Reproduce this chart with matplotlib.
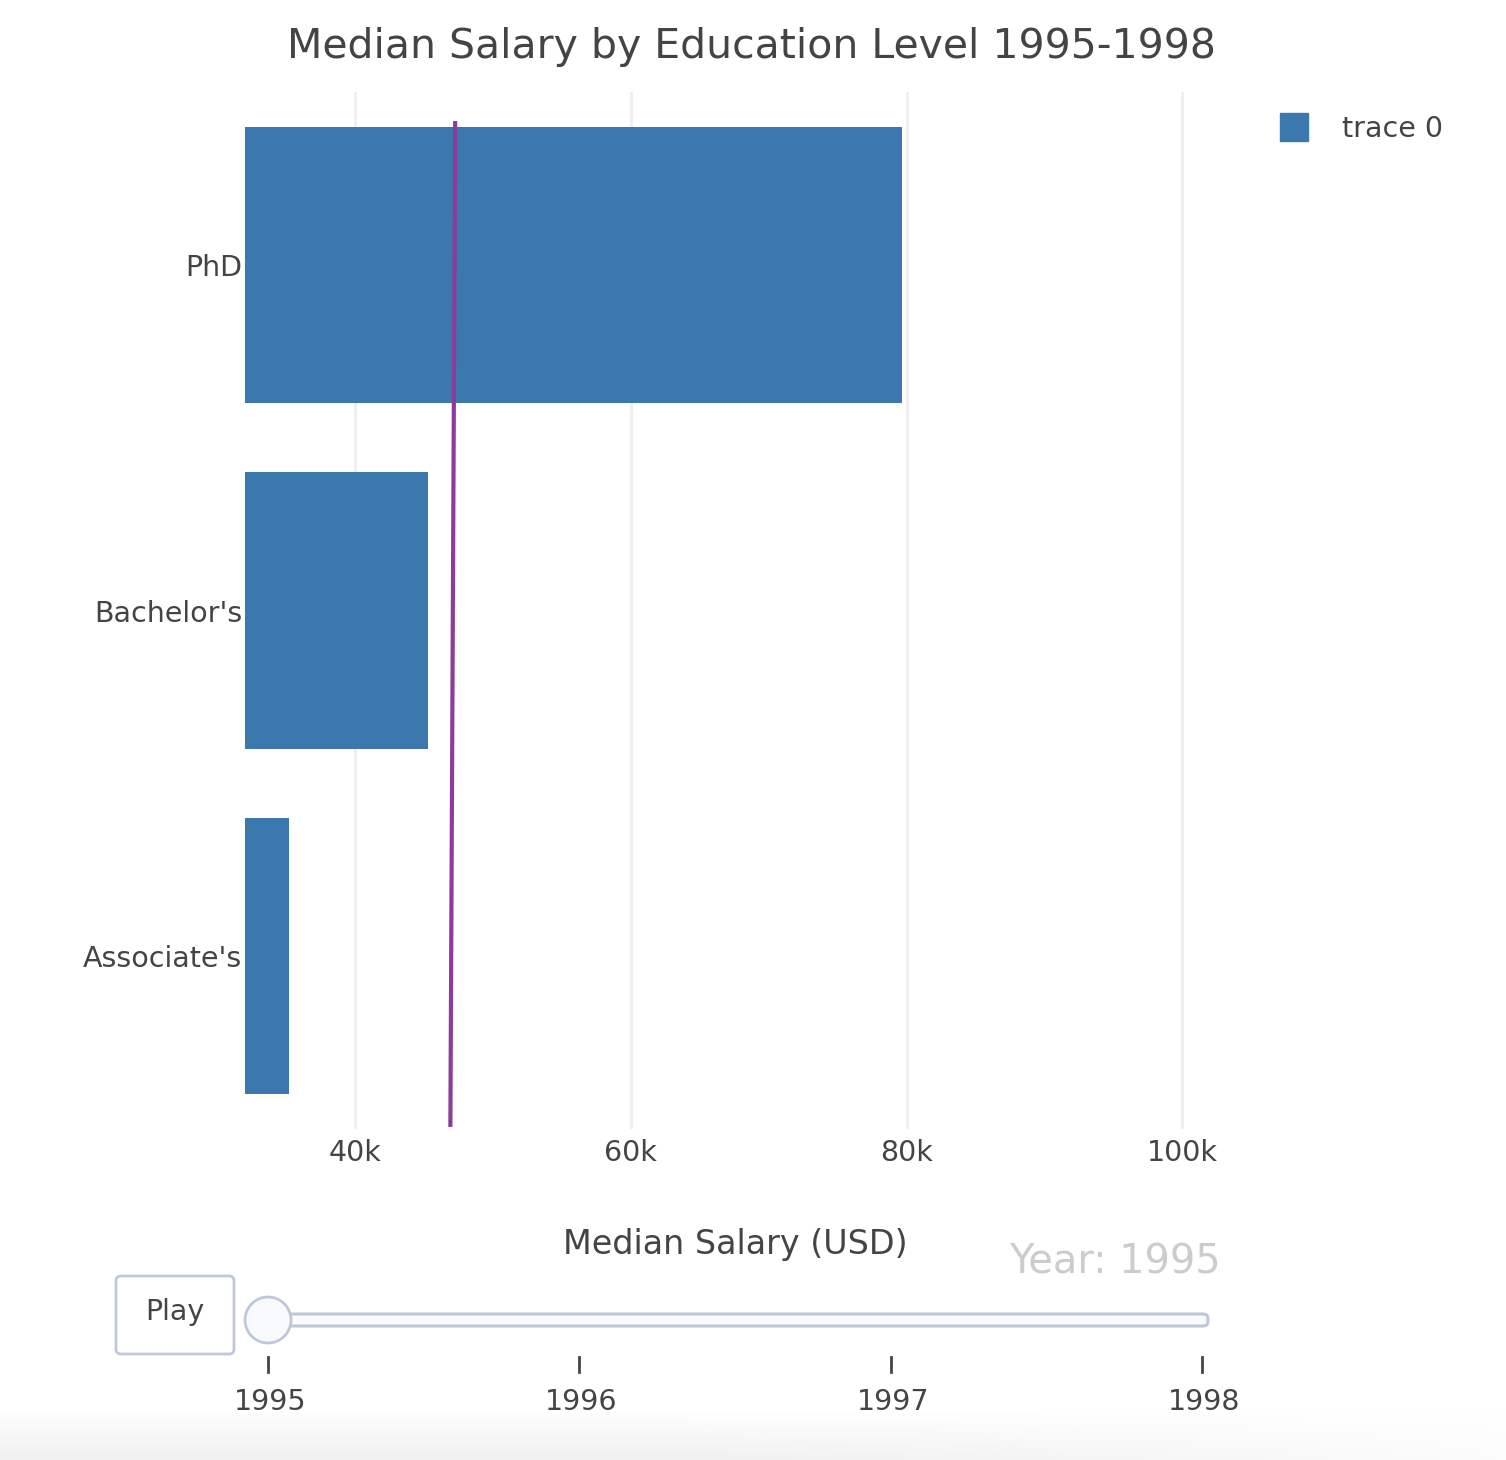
import matplotlib
matplotlib.use("Agg")
import matplotlib.pyplot as plt
import numpy as np
from matplotlib.patches import FancyBboxPatch, Circle, Rectangle
import matplotlib.transforms as mtransforms

# data
categories = ["Associate's", "Bachelor's", "PhD"]
salaries = [35200, 45300, 79700]
ref_line_salary = [46900, 47250]   # purple line, bottom -> top
x_ticks = [40000, 60000, 80000, 100000]
x_tick_labels = ["40k", "60k", "80k", "100k"]
years = [1995, 1996, 1997, 1998]

W, H = 1506, 1460
text_col = "#444444"
bar_col = "#3a78ad"

plt.rcParams["font.family"] = ["DejaVu Sans"]

fig = plt.figure(figsize=(W / 100, H / 100), dpi=100)

def px_axes(left, top, right, bottom):
    return fig.add_axes([left / W, 1 - bottom / H, (right - left) / W, (bottom - top) / H])

ax = px_axes(245, 92, 1225, 1129)
ypos = np.arange(len(categories))
ax.barh(ypos, salaries, height=0.8, color=bar_col, label="trace 0", zorder=2)
trans = mtransforms.blended_transform_factory(ax.transData, ax.transAxes)
ax.plot(ref_line_salary, [0.002, 0.972], color="#8c3b9a", lw=3, transform=trans, zorder=3,
        solid_capstyle="butt")

ax.set_xlim(32000, 103100)
ax.set_ylim(-0.5, 2.5)
ax.set_xticks(x_ticks)
ax.set_xticklabels(x_tick_labels)
ax.set_yticks(ypos)
ax.set_yticklabels(categories)
ax.grid(axis="x", color="#eeeeee", lw=2, zorder=0)
ax.set_axisbelow(True)
for s in ax.spines.values():
    s.set_visible(False)
ax.tick_params(axis="both", length=0, labelsize=20.5, colors=text_col)
ax.tick_params(axis="x", pad=7)
ax.tick_params(axis="y", pad=2)
ax.set_xlabel("Median Salary (USD)", fontsize=24, color=text_col, labelpad=44)

fig.text(751 / W, 1 - 47 / H, "Median Salary by Education Level 1995-1998",
         ha="center", va="center", fontsize=29.5, color=text_col)

# overlay in pixel coords for legend, slider and button
ov = fig.add_axes([0, 0, 1, 1])
ov.axis("off")
ov.patch.set_alpha(0)

ov.add_patch(Rectangle((1280, 113), 28, 28, color=bar_col))
ov.text(1342, 129, "trace 0", ha="left", va="center", fontsize=20.5, color=text_col)

# play button
ov.add_patch(FancyBboxPatch((116, 1276), 118, 78, boxstyle="round,pad=0,rounding_size=5",
                            fc="white", ec="#bec8d9", lw=2))
ov.text(175, 1312, "Play", ha="center", va="center", fontsize=20.5, color=text_col)

# slider rail
ov.add_patch(FancyBboxPatch((250, 1314), 958, 12, boxstyle="round,pad=0,rounding_size=5",
                            fc="#f8fafc", ec="#bec8d9", lw=2.2))
year_px = np.interp(years, [years[0], years[-1]], [268, 1202])
for yr, xp in zip(years, year_px):
    ov.plot([xp, xp], [1357, 1372], color=text_col, lw=2)
    ov.text(xp + 2, 1402, str(yr), ha="center", va="center", fontsize=20.5, color=text_col)
ov.add_patch(Circle((268, 1320), 23, fc="#f8fafc", ec="#bec8d9", lw=2, zorder=5))
ov.text(1221, 1262, "Year: 1995", ha="right", va="center", fontsize=28.7, color="#cccccc")

# faint browser shadow at the bottom
grad = np.linspace(0, 1, 50)[:, None] * np.clip(1.2 - np.linspace(0, 1, 300)[None, :] ** 2, 0, 1)
shade = np.ones((50, 300, 4))
shade[..., :3] = 0.93
shade[..., 3] = grad * 0.8
ov.imshow(shade, extent=(0, W, H, 1410), aspect="auto", zorder=0)
ov.set_xlim(0, W)
ov.set_ylim(H, 0)

fig.savefig("out.png", dpi=100)
